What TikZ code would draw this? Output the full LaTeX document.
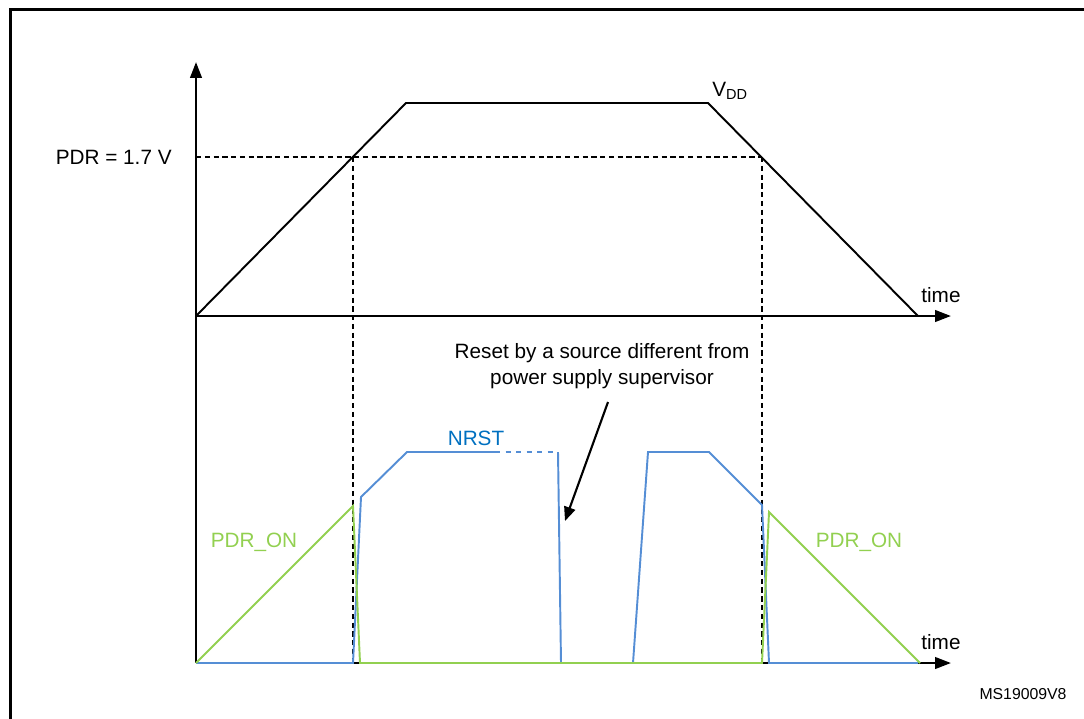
\documentclass[tikz,border=0pt]{standalone}
\usepackage{fontspec}
\setmainfont{Liberation Sans}
\usetikzlibrary{arrows.meta,positioning}
\definecolor{nrstblue}{RGB}{85,142,213}
\definecolor{nrsttext}{RGB}{0,112,192}
\definecolor{pdrgreen}{RGB}{146,208,80}
\newcommand{\axiswidth}{1.4pt}
\newcommand{\sigwidth}{1.1pt}
\newcommand{\lblsize}{\fontsize{11.8}{14.7}\selectfont}

\begin{document}
\begin{tikzpicture}[x=0.02cm,y=-0.02cm,
  axis/.style={line width=\axiswidth},
  axisarrow/.style={line width=\axiswidth,-{Triangle[length=9pt,width=6.5pt]}},
  guide/.style={line width=0.8pt,dash pattern=on 3pt off 2pt},
  vddline/.style={line width=\sigwidth,line join=miter},
  nrstline/.style={nrstblue,line width=\sigwidth},
  pdrline/.style={pdrgreen,line width=\sigwidth},
  lbl/.style={font=\lblsize,inner sep=0pt}]
\useasboundingbox (0,0) rectangle (1084,718);
% frame
\coordinate (f1) at (10.5,730);
\coordinate (f2) at (10.5,9.7);
\coordinate (f3) at (1095,9.7);
\draw[line width=1.7pt] (f1) -- (f2) -- (f3);
% axes
\coordinate (o) at (196,316);
\coordinate (o2) at (196,663);
\coordinate (ytop) at (196,62);
\coordinate (xend) at (951,316);
\coordinate (x2end) at (951,663);
% VDD corners
\coordinate (v1) at (406,103);
\coordinate (v2) at (708,103);
\coordinate (v3) at (918,316);
% PDR threshold
\coordinate (p0) at (196,157);
\coordinate (p1) at (353,157);
\coordinate (p2) at (762,157);
\coordinate (t1) at (353,663);
\coordinate (t2) at (762,663);
\draw[guide] (p0) -- (p2);
\draw[guide] (p1) -- (t1);
\draw[guide] (p2) -- (t2);
\draw[axisarrow] (o2) -- (ytop);
\draw[axisarrow] (o) -- (xend);
\draw[axisarrow] (o2) -- (x2end);
\draw[vddline] (o) -- (v1) -- (v2) -- (v3);
% NRST
\coordinate (n1) at (353,663);
\coordinate (n2) at (361,497);
\coordinate (n3) at (407,452);
\coordinate (n4) at (495,452);
\coordinate (n5) at (558,452);
\coordinate (n6) at (561,663);
\coordinate (n7) at (633,663);
\coordinate (n8) at (648,452);
\coordinate (n9) at (709,452);
\coordinate (n10) at (762,505);
\coordinate (n11) at (769,663);
\coordinate (n12) at (918,663);
\draw[nrstline] (o2) -- (n1) -- (n2) -- (n3) -- (n4);
\draw[nrstline,dashed] (n4) -- (n5);
\draw[nrstline] (n5) -- (n6) -- (n7) -- (n8) -- (n9) -- (n10) -- (n11) -- (n12);
% PDR_ON
\coordinate (g1) at (353,506);
\coordinate (g2) at (360,663);
\coordinate (g3) at (762,663);
\coordinate (g4) at (769,512);
\coordinate (g5) at (920,663);
\draw[pdrline] (o2) -- (g1) -- (g2) -- (g3) -- (g4) -- (g5);
% labels
\node[lbl,anchor=east] (pdrlbl) at (172,157) {PDR = 1.7 V};
\node[lbl,anchor=base west] (vdd) at (712,96) {V\textsubscript{DD}};
\node[lbl,anchor=west] (time1) at (921,295) {time};
\node[lbl,anchor=west] (time2) at (921,642) {time};
\node[lbl,text=nrsttext] (nrst) at (476,438) {NRST};
\node[lbl,text=pdrgreen] (pdron1) at (254,542) {PDR\_ON};
\node[lbl,text=pdrgreen] (pdron2) at (859,542) {PDR\_ON};
\node[lbl,align=center] (reset) at (602,366) {Reset by a source different from\\power supply supervisor};
\coordinate (resettail) at (608,402);
\coordinate (resettip) at (565,521);
\draw[line width=1.2pt,-{Triangle[length=8pt,width=6.5pt]}] (resettail) -- (resettip);
\node[font=\fontsize{9}{11}\selectfont,inner sep=0pt] (msid) at (1023,694) {MS19009V8};
\end{tikzpicture}
\end{document}
